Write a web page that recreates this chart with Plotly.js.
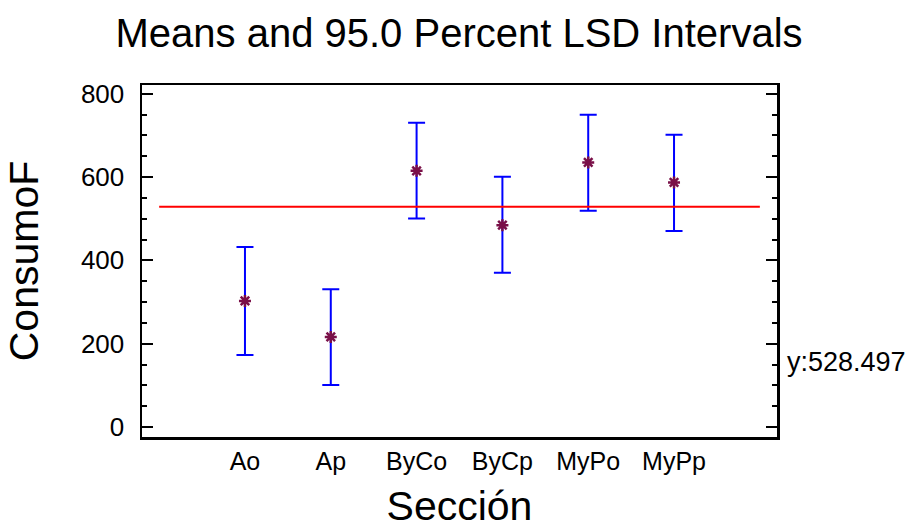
<!DOCTYPE html>
<html>
<head>
<meta charset="utf-8">
<script src="https://cdn.plot.ly/plotly-3.0.1.min.js"></script>
<style>html,body{margin:0;padding:0;background:#fff;}#chart{width:918px;height:529px;}</style>
</head>
<body>
<div id="chart"></div>
<script>
// Data
const categories = ["Ao", "Ap", "ByCo", "ByCp", "MyPo", "MyPp"];
const means      = [302.7, 216.2, 615.0, 484.5, 635.0, 587.0];
const upper      = [432.4, 330.8, 730.2, 600.5, 749.5, 701.4];
const lower      = [173.0, 100.9, 500.6, 370.0, 518.9, 470.8];
const grandMean  = 528.497;

const errPlus  = upper.map((u, i) => u - means[i]);
const errMinus = means.map((m, i) => m - lower[i]);

const FONT = "Liberation Sans, Arial, Helvetica, sans-serif";

const trace = {
  type: "scatter",
  mode: "markers",
  x: categories,
  y: means,
  marker: {symbol: "asterisk-open", size: 10, color: "#7a1048", line: {color: "#7a1048", width: 2.5}},
  error_y: {type: "data", symmetric: false, array: errPlus, arrayminus: errMinus,
            color: "#0000ff", thickness: 2, width: 8.5},
  showlegend: false,
  hoverinfo: "x+y"
};

const layout = {
  width: 918, height: 529,
  margin: {l: 142, r: 141, t: 85, b: 92},
  paper_bgcolor: "#ffffff", plot_bgcolor: "#ffffff",
  font: {family: FONT, color: "#000000"},
  title: {text: "Means and 95.0 Percent LSD Intervals", font: {size: 40, family: FONT, color: "#000"},
          x: 0.5, xanchor: "center", y: 0.937, yanchor: "middle", yref: "container"},
  xaxis: {
    type: "category", range: [-1.2, 6.2],
    showline: true, linecolor: "#000", linewidth: 2.5, mirror: true,
    ticks: "", showgrid: false, zeroline: false,
    tickfont: {size: 25, family: FONT, color: "#000"},
    title: {text: "Sección", font: {size: 41, family: FONT, color: "#000"}, standoff: 42},
    automargin: false
  },
  yaxis: {
    range: [-24, 821], dtick: 200, tick0: 0,
    showline: true, linecolor: "#000", linewidth: 2.5, mirror: "ticks",
    ticks: "inside", ticklen: 11, tickwidth: 2, tickcolor: "#000",
    ticklabelstandoff: 10,
    minor: {ticks: "inside", ticklen: 5, tickwidth: 2, tickcolor: "#000", dtick: 50, showgrid: false},
    showgrid: false, zeroline: false,
    tickfont: {size: 26, family: FONT, color: "#000"},
    title: {text: "ConsumoF", font: {size: 41, family: FONT, color: "#000"}, standoff: 30},
    automargin: false
  },
  shapes: [{type: "line", xref: "x", yref: "y", x0: -1, x1: 6, y0: grandMean, y1: grandMean,
            line: {color: "#ff0000", width: 2}}],
  annotations: [{xref: "paper", yref: "paper", x: 1, y: 0.213, xanchor: "left", yanchor: "middle",
                 xshift: 8, showarrow: false, text: "y:" + grandMean.toFixed(3),
                 font: {size: 27, family: FONT, color: "#000"}}]
};

Plotly.newPlot("chart", [trace], layout, {displayModeBar: false, staticPlot: true});
</script>
</body>
</html>
